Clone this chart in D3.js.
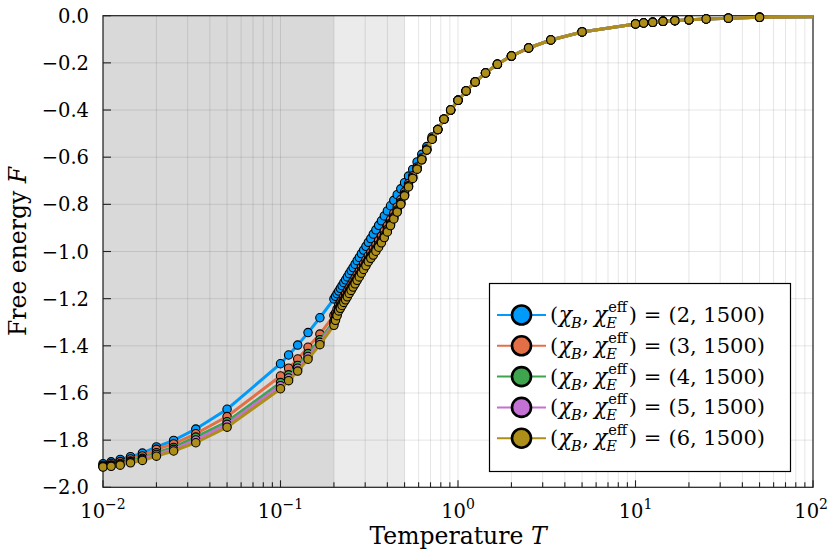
<!DOCTYPE html>
<html><head><meta charset="utf-8">
<script src="https://cdn.jsdelivr.net/npm/d3@7"></script>
<style>body{margin:0;background:#fff}</style>
</head><body>
<svg id="chart" width="830" height="554"></svg>
<script>
// ---------------- data ----------------
const temperature = [
  0.01, 0.01111, 0.0125, 0.01429, 0.01667, 0.02, 0.025, 0.03333, 0.05, 0.1, 0.1111, 0.125, 0.1429, 0.1667, 0.2,
  0.2041, 0.2083, 0.2128, 0.2174, 0.2222, 0.2273, 0.2326, 0.2381, 0.2439, 0.25, 0.2564, 0.2632, 0.2703, 0.2778, 0.2857,
  0.2941, 0.3030, 0.3125, 0.3226, 0.3333, 0.3448, 0.3571, 0.3704, 0.3846, 0.4, 0.4167, 0.4348, 0.4545, 0.4762, 0.5,
  0.5263, 0.5556, 0.5882, 0.625, 0.6667, 0.7143,
  0.7692, 0.8333, 0.9091, 1.0, 1.111, 1.25, 1.429, 1.667, 2.0, 2.5, 3.333, 5.0, 10,
  11.11, 12.5, 14.29, 16.67, 20, 25, 33.33, 50, 200
];
// shared high-temperature tail (T >= 0.7692), identical for all series
const F_tail = [-0.483, -0.439, -0.400, -0.359, -0.319, -0.281, -0.243, -0.206, -0.171, -0.137, -0.103, -0.069, -0.035,
  -0.031, -0.028, -0.024, -0.021, -0.0175, -0.014, -0.0105, -0.007, -0.00175];

const F_chiB2 = [-1.900, -1.892, -1.882, -1.870, -1.855, -1.829, -1.801, -1.753, -1.669, -1.476, -1.439, -1.397, -1.344, -1.281, -1.201,
  -1.190, -1.179, -1.168, -1.156, -1.145, -1.132, -1.120, -1.108, -1.094, -1.081, -1.068, -1.054, -1.039, -1.025, -1.009,
  -0.994, -0.978, -0.961, -0.945, -0.926, -0.908, -0.889, -0.870, -0.849, -0.828, -0.806, -0.783, -0.759, -0.734, -0.708,
  -0.680, -0.652, -0.620, -0.588, -0.555, -0.514];
const F_chiB3 = [-1.906, -1.899, -1.891, -1.880, -1.867, -1.839, -1.816, -1.773, -1.700, -1.528, -1.495, -1.456, -1.406, -1.350, -1.271,
  -1.261, -1.244, -1.227, -1.216, -1.204, -1.191, -1.180, -1.167, -1.153, -1.140, -1.126, -1.112, -1.097, -1.083, -1.067,
  -1.051, -1.035, -1.018, -1.004, -0.988, -0.972, -0.954, -0.935, -0.913, -0.890, -0.865, -0.838, -0.811, -0.780, -0.747,
  -0.712, -0.679, -0.642, -0.604, -0.565, -0.521];
const F_chiB4 = [-1.910, -1.905, -1.899, -1.888, -1.877, -1.853, -1.831, -1.787, -1.722, -1.556, -1.523, -1.483, -1.433, -1.374, -1.296,
  -1.280, -1.261, -1.242, -1.231, -1.219, -1.206, -1.195, -1.182, -1.168, -1.155, -1.141, -1.127, -1.112, -1.098, -1.082,
  -1.066, -1.050, -1.033, -1.019, -1.004, -0.988, -0.971, -0.952, -0.930, -0.906, -0.880, -0.853, -0.824, -0.792, -0.757,
  -0.721, -0.686, -0.648, -0.609, -0.569, -0.524];
const F_chiB5 = [-1.912, -1.908, -1.903, -1.892, -1.882, -1.861, -1.839, -1.799, -1.733, -1.569, -1.536, -1.495, -1.445, -1.385, -1.305,
  -1.287, -1.267, -1.248, -1.237, -1.225, -1.212, -1.201, -1.188, -1.174, -1.161, -1.147, -1.133, -1.118, -1.104, -1.088,
  -1.072, -1.056, -1.039, -1.025, -1.011, -0.994, -0.977, -0.958, -0.936, -0.913, -0.886, -0.858, -0.829, -0.797, -0.761,
  -0.724, -0.688, -0.651, -0.611, -0.570, -0.524];
const F_chiB6 = [-1.914, -1.911, -1.906, -1.896, -1.886, -1.868, -1.846, -1.811, -1.745, -1.582, -1.548, -1.507, -1.457, -1.395, -1.313,
  -1.292, -1.272, -1.252, -1.241, -1.229, -1.216, -1.205, -1.192, -1.178, -1.165, -1.151, -1.137, -1.122, -1.108, -1.092,
  -1.076, -1.060, -1.043, -1.029, -1.015, -0.999, -0.982, -0.963, -0.941, -0.917, -0.890, -0.862, -0.833, -0.800, -0.764,
  -0.726, -0.690, -0.651, -0.611, -0.570, -0.524];

const chiB = [2, 3, 4, 5, 6];
const chiE = [1500, 1500, 1500, 1500, 1500];
const seriesColors = ["#009AFA", "#E36F47", "#3EA44E", "#C371D2", "#AC8E18"];
const yTicks = [-2.0, -1.8, -1.6, -1.4, -1.2, -1.0, -0.8, -0.6, -0.4, -0.2, 0.0];
const xTickExp = [-2, -1, 0, 1, 2];
const shadeDark = [0.01, 0.2];
const shadeLight = [0.2, 0.5];

const seriesF = [F_chiB2, F_chiB3, F_chiB4, F_chiB5, F_chiB6].map(a => a.concat(F_tail));

// ---------------- layout ----------------
const L = 103, R = 813, T = 15.7, B = 487.3;
const x = d3.scaleLog().domain([0.01, 100]).range([L, R]);
const y = d3.scaleLinear().domain([-2, 0]).range([B, T]);
const svg = d3.select("#chart");
const serif = "'DejaVu Serif', 'Liberation Serif', serif";

svg.append("defs").append("clipPath").attr("id", "clip")
  .append("rect").attr("x", L).attr("y", T - 10).attr("width", R - L).attr("height", B - T + 20);

// shading
svg.append("rect").attr("x", x(shadeDark[0])).attr("y", T).attr("width", x(shadeDark[1]) - x(shadeDark[0]))
  .attr("height", B - T).attr("fill", "#d9d9d9");
svg.append("rect").attr("x", x(shadeLight[0])).attr("y", T).attr("width", x(shadeLight[1]) - x(shadeLight[0]))
  .attr("height", B - T).attr("fill", "#ebebeb");

// grid
const grid = svg.append("g").attr("stroke", "#000").attr("stroke-opacity", 0.1).attr("stroke-width", 1);
const xGridVals = [];
for (let e = -2; e < 2; e++) for (let m = 1; m <= 9; m++) xGridVals.push(m * Math.pow(10, e));
xGridVals.push(100);
xGridVals.forEach(v => grid.append("line").attr("x1", x(v)).attr("x2", x(v)).attr("y1", T).attr("y2", B));
yTicks.forEach(v => grid.append("line").attr("x1", L).attr("x2", R).attr("y1", y(v)).attr("y2", y(v)));

// frame
svg.append("rect").attr("x", L).attr("y", T).attr("width", R - L).attr("height", B - T)
  .attr("fill", "none").attr("stroke", "#222").attr("stroke-width", 1.2);

// ticks
const tk = svg.append("g").attr("stroke", "#222").attr("stroke-width", 1.1);
xGridVals.forEach(v => {
  const major = Math.abs(Math.log10(v) - Math.round(Math.log10(v))) < 1e-9;
  tk.append("line").attr("x1", x(v)).attr("x2", x(v)).attr("y1", B).attr("y2", B - (major ? 7 : 5));
});
yTicks.forEach(v => tk.append("line").attr("x1", L).attr("x2", L + 8).attr("y1", y(v)).attr("y2", y(v)));

// y tick labels
const fmt = d3.format(".1f");
yTicks.forEach(v => svg.append("text").attr("x", 89).attr("y", y(v) + 7)
  .attr("text-anchor", "end").attr("font-family", serif).attr("font-size", 19.5).text(fmt(v)));

// x tick labels 10^k
xTickExp.forEach(e => {
  const t = svg.append("text").attr("font-family", serif).attr("font-size", 19.5).attr("y", 518);
  t.append("tspan").text("10");
  t.append("tspan").attr("font-size", 14).attr("dy", -9).text(e < 0 ? "\u2212" + (-e) : String(e));
  const w = t.node().getComputedTextLength();
  t.attr("x", Math.min(x(Math.pow(10, e)) - w / 2, 828 - w));
});

// axis labels
const xl = svg.append("text").attr("font-family", serif).attr("font-size", 23.5).attr("y", 544)
  .attr("text-anchor", "middle").attr("x", (L + R) / 2);
xl.append("tspan").text("Temperature ");
xl.append("tspan").attr("font-style", "italic").text("T");
const yl = svg.append("text").attr("font-family", serif).attr("font-size", 23.5)
  .attr("text-anchor", "middle").attr("transform", `translate(26,${(T + B) / 2}) rotate(-90)`);
yl.append("tspan").text("Free energy ");
yl.append("tspan").attr("font-style", "italic").text("F");

// series
const line = d3.line().x((d, i) => x(temperature[i])).y(d => y(d));
const plot = svg.append("g");
seriesF.forEach((F, s) => {
  plot.append("path").attr("d", line(F)).attr("fill", "none").attr("stroke", seriesColors[s])
    .attr("stroke-width", 3).attr("clip-path", "url(#clip)");
  plot.append("g").selectAll("circle").data(F).join("circle")
    .attr("cx", (d, i) => x(temperature[i])).attr("cy", d => y(d)).attr("r", 4.2)
    .attr("fill", seriesColors[s]).attr("stroke", "#000").attr("stroke-width", 1.1);
});

// legend
const lg = svg.append("g");
lg.append("rect").attr("x", 489.5).attr("y", 283.5).attr("width", 301).attr("height", 188)
  .attr("fill", "#fff").attr("stroke", "#000").attr("stroke-width", 1.2);

function piece(g, px, base, txt, size, italic) {
  const t = g.append("text").attr("x", px).attr("y", base).attr("font-family", serif)
    .attr("font-size", size).attr("font-style", italic ? "italic" : "normal").text(txt);
  return t.node().getComputedTextLength();
}
chiB.forEach((cb, i) => {
  const cy = 315 + i * 30.8;
  lg.append("line").attr("x1", 497).attr("x2", 546).attr("y1", cy).attr("y2", cy)
    .attr("stroke", seriesColors[i]).attr("stroke-width", 2);
  lg.append("circle").attr("cx", 521.5).attr("cy", cy).attr("r", 9.5)
    .attr("fill", seriesColors[i]).attr("stroke", "#000").attr("stroke-width", 2.6);
  const base = cy + 7;
  let px = 550;
  px += piece(lg, px, base, "(", 21, false) + 0.5;
  px += piece(lg, px, base, "\u03c7", 22, true) - 1;
  px += piece(lg, px, base + 6, "B", 14.5, true) + 0.5;
  px += piece(lg, px, base, ",", 21, false) + 5;
  px += piece(lg, px, base, "\u03c7", 22, true);
  const w1 = piece(lg, px + 1, base - 10, "eff", 14.5, false);
  const w2 = piece(lg, px - 1, base + 6, "E", 14.5, true);
  px += Math.max(w1 + 1, w2) + 1.5;
  px += piece(lg, px, base, ")", 21, false) + 7;
  px += piece(lg, px, base, "=", 21, false) + 7;
  const rest = lg.append("text").attr("x", px).attr("y", base).attr("font-family", serif).attr("font-size", 21)
    .text(`(${cb}, ${chiE[i]})`);
  const wr = rest.node().getComputedTextLength();
  if (px + wr > 772) rest.attr("textLength", 772 - px).attr("lengthAdjust", "spacingAndGlyphs");
});
</script>
</body></html>
